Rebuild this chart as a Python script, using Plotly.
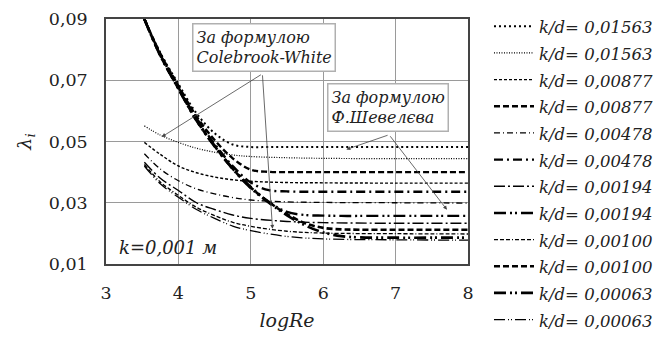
import plotly.graph_objects as go

# logRe grids
x_cw = [3.53, 3.75, 4.0, 4.25, 4.5, 4.75, 5.0, 5.5, 6.0, 7.0, 8.0]
x_sh = [3.53, 3.75, 4.0, 4.25, 4.5, 4.75, 5.0, 5.25, 5.5, 5.75, 6.0, 6.25, 6.5, 7.0, 7.5, 8.0]

# Colebrook-White curves
cw_01563 = [0.0551, 0.0521, 0.0497, 0.0478, 0.0465, 0.0456, 0.0451, 0.0447, 0.0445, 0.0444, 0.0444]
cw_00877 = [0.0497, 0.0458, 0.0420, 0.0398, 0.0384, 0.0375, 0.0370, 0.0366, 0.0365, 0.0364, 0.0364]
cw_00478 = [0.0460, 0.0410, 0.0372, 0.0345, 0.0329, 0.0317, 0.0309, 0.0303, 0.0301, 0.0300, 0.0299]
cw_00194 = [0.0432, 0.0380, 0.0340, 0.0300, 0.0278, 0.0260, 0.0249, 0.0239, 0.0235, 0.0233, 0.0233]
cw_00100 = [0.0425, 0.0368, 0.0324, 0.0285, 0.0258, 0.0236, 0.0223, 0.0207, 0.0201, 0.0199, 0.0198]
cw_00063 = [0.0420, 0.0362, 0.0318, 0.0278, 0.0249, 0.0224, 0.0209, 0.0190, 0.0182, 0.0179, 0.0178]

# Shevelev curves
sh_01563 = [0.0900, 0.0790, 0.0688, 0.0592, 0.0527, 0.0490, 0.0482, 0.0482, 0.0482, 0.0482, 0.0482, 0.0482, 0.0482, 0.0482, 0.0482, 0.0482]
sh_00877 = [0.0900, 0.0787, 0.0682, 0.0582, 0.0505, 0.0445, 0.0408, 0.0401, 0.0400, 0.0400, 0.0400, 0.0400, 0.0400, 0.0400, 0.0400, 0.0400]
sh_00478 = [0.0900, 0.0784, 0.0677, 0.0576, 0.0492, 0.0420, 0.0366, 0.0341, 0.0337, 0.0336, 0.0336, 0.0336, 0.0336, 0.0336, 0.0336, 0.0336]
sh_00194 = [0.0900, 0.0782, 0.0674, 0.0571, 0.0487, 0.0413, 0.0352, 0.0303, 0.0270, 0.0260, 0.0258, 0.0257, 0.0257, 0.0257, 0.0257, 0.0257]
sh_00100 = [0.0900, 0.0781, 0.0673, 0.0569, 0.0485, 0.0411, 0.0350, 0.0302, 0.0263, 0.0233, 0.0218, 0.0213, 0.0212, 0.0212, 0.0212, 0.0212]
sh_00063 = [0.0900, 0.0780, 0.0672, 0.0568, 0.0484, 0.0410, 0.0348, 0.0300, 0.0259, 0.0226, 0.0203, 0.0191, 0.0187, 0.0186, 0.0186, 0.0186]

series = [
    ("k/d= 0,01563", x_sh, sh_01563, "2px,3px", 2.0),
    ("k/d= 0,01563", x_cw, cw_01563, "1px,1.5px", 1.2),
    ("k/d= 0,00877", x_cw, cw_00877, "3px,2px", 1.4),
    ("k/d= 0,00877", x_sh, sh_00877, "6px,3px", 2.4),
    ("k/d= 0,00478", x_cw, cw_00478, "6px,3px,1px,3px", 1.3),
    ("k/d= 0,00478", x_sh, sh_00478, "9px,4px,2px,4px", 2.4),
    ("k/d= 0,00194", x_cw, cw_00194, "11px,3px,2px,3px", 1.4),
    ("k/d= 0,00194", x_sh, sh_00194, "12px,4px,2px,3px,2px,4px", 2.4),
    ("k/d= 0,00100", x_cw, cw_00100, "4px,2px,4px,2px,4px,2px,1px,2px", 1.3),
    ("k/d= 0,00100", x_sh, sh_00100, "6px,3px", 2.6),
    ("k/d= 0,00063", x_sh, sh_00063, "12px,4px,2px,3px,2px,4px", 2.6),
    ("k/d= 0,00063", x_cw, cw_00063, "11px,3px,1px,2px,1px,3px", 1.3),
]

serif = "DejaVu Serif"
ink = "#222"
fig = go.Figure()
for name, xs, ys, dash, w in series:
    fig.add_trace(go.Scatter(
        x=xs, y=ys, mode="lines",
        name='<span style="font-size:16.5px"><i>' + name + "</i></span>",
        line=dict(color="black", width=w, dash=dash, shape="spline"),
    ))

box = dict(bordercolor="#b0b0b0", borderwidth=1.5, bgcolor="white",
           font=dict(family=serif, size=16, color=ink), borderpad=3)
arrow = dict(showarrow=True, arrowhead=2, arrowsize=1, arrowwidth=0.8,
             arrowcolor="#444", axref="x", ayref="y", text="")

annotations = [
    dict(x=3.77, y=0.0515, ax=5.16, ay=0.0721, **arrow),
    dict(x=5.30, y=0.0215, ax=5.16, ay=0.0721, **arrow),
    dict(x=6.32, y=0.0474, ax=6.91, ay=0.0522, **arrow),
    dict(x=7.71, y=0.0277, ax=6.91, ay=0.0522, **arrow),
    dict(x=5.18, y=0.0806, text="<i>За формулою<br>Colebrook-White</i>",
         showarrow=False, align="left", **box),
    dict(x=6.90, y=0.0610, text="<i>За формулою<br>Ф.Шевелєва</i>",
         showarrow=False, align="left", **box),
    dict(x=3.86, y=0.0155, text="<i>k=0,001 м</i>", showarrow=False,
         font=dict(family=serif, size=18, color=ink)),
]

axis_common = dict(showgrid=True, gridcolor="#9a9a9a", gridwidth=1,
                   showline=True, linecolor="#444", linewidth=1.5, mirror=True,
                   zeroline=False, ticks="", ticklabeloverflow="allow",
                   tickfont=dict(family=serif, size=17.5, color=ink))

# body margin of the page offsets the figure by 8px, so margins are shifted back
fig.update_layout(
    width=663, height=338,
    margin=dict(l=98, r=203, t=11, b=82, autoexpand=False),
    paper_bgcolor="white", plot_bgcolor="white",
    separators=", ",
    showlegend=True,
    font=dict(family=serif),
    legend=dict(x=1.058, xanchor="left", y=1.045, yanchor="top",
                font=dict(family=serif, size=18.2, color=ink),
                itemwidth=40, tracegroupgap=0, bgcolor="rgba(0,0,0,0)"),
    xaxis=dict(range=[3, 8], dtick=1, tick0=3, ticklabelstandoff=12,
               title=dict(text="<i>logRe</i>", font=dict(family=serif, size=19, color=ink), standoff=12),
               **axis_common),
    yaxis=dict(range=[0.01, 0.09], dtick=0.02, tick0=0.01, tickformat=".2f",
               ticklabelstandoff=13,
               title=dict(text="<i>λ<sub>i</sub></i>", font=dict(family=serif, size=19, color=ink), standoff=12),
               **axis_common),
    annotations=annotations,
)
try:
    fig.update_layout(legend_maxheight=338)
except Exception:
    pass

fig.write_html("out.html")
